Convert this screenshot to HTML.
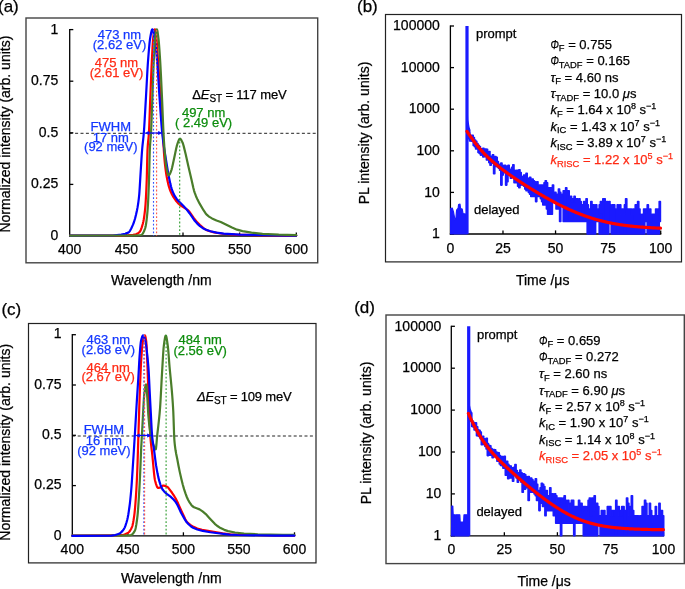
<!DOCTYPE html>
<html><head><meta charset="utf-8"><style>
html,body{margin:0;padding:0;background:#fff;}
svg{display:block;will-change:transform;}
</style></head><body>
<svg width="685" height="589" viewBox="0 0 685 589" font-family='"Liberation Sans", sans-serif'>
<rect width="685" height="589" fill="#fff"/>
<rect x="26.0" y="18.0" width="291.70" height="244.80" fill="none" stroke="#444" stroke-width="1.4"/>
<line x1="69.70" y1="133.30" x2="317.10" y2="133.30" stroke="#222" stroke-width="1.0" stroke-dasharray="3,2.4"/>
<line x1="69.70" y1="29.00" x2="69.70" y2="236.60" stroke="#000" stroke-width="1.3" />
<line x1="69.10" y1="236.00" x2="296.90" y2="236.00" stroke="#000" stroke-width="1.3" />
<line x1="69.70" y1="236.00" x2="73.30" y2="236.00" stroke="#000" stroke-width="1.3" />
<line x1="69.70" y1="184.40" x2="73.30" y2="184.40" stroke="#000" stroke-width="1.3" />
<line x1="69.70" y1="132.80" x2="73.30" y2="132.80" stroke="#000" stroke-width="1.3" />
<line x1="69.70" y1="81.20" x2="73.30" y2="81.20" stroke="#000" stroke-width="1.3" />
<line x1="69.70" y1="29.60" x2="73.30" y2="29.60" stroke="#000" stroke-width="1.3" />
<line x1="126.35" y1="236.00" x2="126.35" y2="232.40" stroke="#000" stroke-width="1.3" />
<line x1="183.00" y1="236.00" x2="183.00" y2="232.40" stroke="#000" stroke-width="1.3" />
<line x1="239.65" y1="236.00" x2="239.65" y2="232.40" stroke="#000" stroke-width="1.3" />
<line x1="296.30" y1="236.00" x2="296.30" y2="232.40" stroke="#000" stroke-width="1.3" />
<polyline points="70.00,235.60 124.25,235.52 133.25,234.86 136.00,234.20 138.50,232.99 139.50,232.24 140.25,231.10 141.00,229.43 141.75,227.32 142.75,223.95 143.25,221.97 143.75,219.43 144.00,217.91 144.25,216.23 144.50,214.36 144.75,212.31 145.00,210.05 145.25,207.58 145.50,204.54 145.75,200.78 146.00,196.34 146.25,191.25 146.50,185.56 146.75,179.18 147.00,169.27 147.25,158.00 147.50,150.00 147.75,145.91 148.00,142.94 148.50,138.16 148.75,135.24 149.00,131.21 149.25,125.71 149.50,119.18 150.00,105.18 150.25,98.77 151.00,80.17 151.25,74.16 151.50,68.41 151.75,63.02 152.25,53.00 152.50,48.12 152.75,43.70 153.00,40.09 153.25,37.58 153.75,33.64 154.00,31.97 154.25,30.64 154.50,29.72 154.75,29.31 155.00,29.50 155.25,30.27 155.50,31.50 155.75,33.07 156.25,36.82 156.50,38.85 156.75,41.51 157.00,44.79 157.25,48.48 157.75,56.28 158.25,63.57 159.25,78.16 160.50,96.95 161.25,108.53 163.00,136.20 163.75,148.84 164.00,152.82 164.25,156.43 164.50,159.53 164.75,162.09 165.25,166.64 165.75,170.61 166.25,174.06 166.75,177.05 167.50,180.84 168.25,184.09 169.00,186.88 169.75,189.24 170.75,191.83 172.00,194.54 173.50,197.21 175.75,200.49 178.00,203.16 180.00,204.97 186.00,208.86 188.25,210.47 189.50,211.82 191.75,215.15 193.50,217.70 197.25,222.40 199.75,224.87 203.50,228.07 206.25,229.89 209.00,231.02 214.00,232.31 222.50,233.76 235.00,234.59 255.00,235.20 295.50,235.60 296.25,235.60" fill="none" stroke="#ff0000" stroke-width="2.2" stroke-linejoin="round" stroke-linecap="round"/>
<polyline points="70.00,235.60 112.75,235.52 121.25,234.63 125.25,233.77 128.25,232.62 129.00,232.09 130.00,230.81 131.25,228.53 133.00,224.67 134.00,222.00 135.00,218.70 136.00,214.78 137.00,210.24 137.50,207.63 138.00,204.61 138.50,201.06 138.75,199.04 139.00,196.84 139.25,194.30 139.50,191.01 139.75,187.14 140.50,174.47 141.00,166.54 141.50,158.48 141.75,154.70 142.00,151.25 142.25,148.26 142.50,145.67 143.25,138.84 143.50,136.39 143.75,133.61 144.00,130.38 144.25,126.72 144.50,122.74 145.00,114.11 145.75,100.85 146.00,96.53 146.50,87.34 147.00,77.95 147.25,73.40 147.50,69.06 147.75,65.01 148.00,61.34 148.50,54.85 149.00,48.78 149.25,46.01 149.50,43.47 149.75,41.21 150.00,39.28 150.50,36.27 151.00,33.52 151.50,31.22 151.75,30.35 152.00,29.72 152.25,29.36 152.50,29.33 152.75,29.63 153.00,30.23 153.25,31.09 153.75,33.35 154.75,38.87 155.00,40.53 155.25,42.42 155.50,44.51 156.00,49.22 156.50,54.45 157.00,60.00 157.25,62.99 157.50,66.30 157.75,69.86 158.25,77.51 159.25,93.38 159.50,97.14 161.00,118.61 161.25,122.01 161.50,125.24 161.75,128.25 162.00,131.01 162.25,133.47 162.75,137.89 163.25,141.90 164.00,147.29 165.00,153.75 167.50,169.29 168.25,173.61 169.00,177.52 170.25,183.36 171.00,186.51 171.75,189.17 172.50,191.25 173.75,194.11 175.00,196.44 176.50,198.72 178.50,201.05 183.50,206.03 186.00,208.70 189.50,213.24 192.25,217.14 194.75,220.77 197.25,223.58 200.00,226.15 202.50,227.90 206.00,229.70 210.50,231.25 216.50,232.61 223.75,233.70 239.75,234.57 277.50,235.44 296.25,235.60" fill="none" stroke="#0000ff" stroke-width="2.2" stroke-linejoin="round" stroke-linecap="round"/>
<polyline points="70.00,235.60 134.25,235.52 140.75,234.98 141.75,234.73 142.50,234.03 143.25,232.85 144.00,231.25 145.00,228.59 145.25,227.84 145.50,226.91 145.75,225.73 146.00,224.31 146.25,222.66 146.50,220.78 146.75,218.69 147.00,216.39 147.25,213.89 147.50,211.20 147.75,207.96 148.00,203.84 148.25,198.96 148.50,193.40 148.75,187.25 149.00,180.60 149.25,171.40 149.50,160.25 149.75,151.20 150.00,146.28 150.25,142.78 150.75,136.87 151.00,133.00 151.25,127.86 151.50,121.76 151.75,115.05 152.25,101.31 152.50,94.61 153.00,80.26 153.25,73.22 153.50,66.70 153.75,61.01 154.00,56.08 154.25,51.36 154.50,46.98 154.75,43.11 155.00,39.94 155.25,37.59 155.75,33.69 156.00,32.02 156.25,30.66 156.50,29.73 156.75,29.31 157.00,29.51 157.25,30.28 157.50,31.52 157.75,33.11 158.25,36.85 158.50,38.81 158.75,41.20 159.00,44.06 159.25,47.30 159.50,50.83 160.00,58.44 160.25,62.42 160.50,66.77 160.75,71.46 161.00,76.42 161.50,86.94 162.00,97.82 162.25,103.39 162.50,109.45 163.00,121.99 163.25,127.85 163.50,133.00 163.75,137.54 164.00,141.76 164.25,145.62 164.50,149.11 165.00,155.34 165.25,158.24 165.50,160.90 165.75,163.21 166.00,165.09 166.75,169.27 167.25,171.70 167.75,173.64 168.00,174.37 168.25,174.90 168.50,175.22 168.75,175.30 169.25,174.97 169.75,174.20 170.50,172.50 171.50,169.85 172.00,168.06 172.75,164.80 174.25,157.72 175.25,153.04 176.25,148.26 176.75,146.16 177.25,144.45 178.50,140.82 179.00,139.66 179.50,138.91 180.00,138.71 180.50,138.99 181.25,139.99 182.50,142.41 183.00,143.74 183.75,146.37 185.75,154.50 188.25,165.68 191.75,180.78 193.25,187.59 194.00,190.56 194.75,192.92 196.00,196.21 197.50,199.58 199.50,203.40 203.50,210.24 205.50,213.20 207.00,214.97 209.00,216.61 212.00,218.43 216.50,220.43 220.75,221.92 232.00,227.54 237.00,229.64 242.50,231.11 251.50,232.67 262.50,233.80 278.75,234.71 296.25,235.20" fill="none" stroke="#4a7d2a" stroke-width="2.2" stroke-linejoin="round" stroke-linecap="round"/>
<line x1="153.50" y1="30.00" x2="153.50" y2="236.00" stroke="#3355ff" stroke-width="1.1" stroke-dasharray="1.8,2.0"/>
<line x1="156.60" y1="30.00" x2="156.60" y2="236.00" stroke="#ff5544" stroke-width="1.1" stroke-dasharray="1.8,2.0"/>
<line x1="179.70" y1="138.00" x2="179.70" y2="236.00" stroke="#2a9a2a" stroke-width="1.1" stroke-dasharray="1.8,2.0"/>
<text x="58.30" y="239.90" font-size="14" text-anchor="end" fill="#000" stroke="#000" stroke-width="0.25" >0</text>
<text x="58.30" y="188.30" font-size="14" text-anchor="end" fill="#000" stroke="#000" stroke-width="0.25" >0.25</text>
<text x="58.30" y="136.70" font-size="14" text-anchor="end" fill="#000" stroke="#000" stroke-width="0.25" >0.5</text>
<text x="58.30" y="85.10" font-size="14" text-anchor="end" fill="#000" stroke="#000" stroke-width="0.25" >0.75</text>
<text x="58.30" y="33.50" font-size="14" text-anchor="end" fill="#000" stroke="#000" stroke-width="0.25" >1</text>
<text x="69.70" y="253.60" font-size="14" text-anchor="middle" fill="#000" stroke="#000" stroke-width="0.25" >400</text>
<text x="126.35" y="253.60" font-size="14" text-anchor="middle" fill="#000" stroke="#000" stroke-width="0.25" >450</text>
<text x="183.00" y="253.60" font-size="14" text-anchor="middle" fill="#000" stroke="#000" stroke-width="0.25" >500</text>
<text x="239.65" y="253.60" font-size="14" text-anchor="middle" fill="#000" stroke="#000" stroke-width="0.25" >550</text>
<text x="296.30" y="253.60" font-size="14" text-anchor="middle" fill="#000" stroke="#000" stroke-width="0.25" >600</text>
<text x="161.30" y="285.00" font-size="14" text-anchor="middle" fill="#000" stroke="#000" stroke-width="0.25" >Wavelength /nm</text>
<text transform="translate(10.4,134.1) rotate(-90)" font-size="14" text-anchor="middle" stroke="#000" stroke-width="0.25">Normalized intensity (arb. units)</text>
<rect x="28.5" y="323.5" width="287.50" height="239.40" fill="none" stroke="#222" stroke-width="1.2"/>
<line x1="72.30" y1="436.00" x2="315.40" y2="436.00" stroke="#222" stroke-width="1.0" stroke-dasharray="3,2.4"/>
<line x1="72.30" y1="334.10" x2="72.30" y2="536.50" stroke="#000" stroke-width="1.3" />
<line x1="71.70" y1="535.90" x2="295.10" y2="535.90" stroke="#000" stroke-width="1.3" />
<line x1="72.30" y1="535.90" x2="75.90" y2="535.90" stroke="#000" stroke-width="1.3" />
<line x1="72.30" y1="485.60" x2="75.90" y2="485.60" stroke="#000" stroke-width="1.3" />
<line x1="72.30" y1="435.30" x2="75.90" y2="435.30" stroke="#000" stroke-width="1.3" />
<line x1="72.30" y1="385.00" x2="75.90" y2="385.00" stroke="#000" stroke-width="1.3" />
<line x1="72.30" y1="334.70" x2="75.90" y2="334.70" stroke="#000" stroke-width="1.3" />
<line x1="127.85" y1="535.90" x2="127.85" y2="532.30" stroke="#000" stroke-width="1.3" />
<line x1="183.40" y1="535.90" x2="183.40" y2="532.30" stroke="#000" stroke-width="1.3" />
<line x1="238.95" y1="535.90" x2="238.95" y2="532.30" stroke="#000" stroke-width="1.3" />
<line x1="294.50" y1="535.90" x2="294.50" y2="532.30" stroke="#000" stroke-width="1.3" />
<polyline points="72.30,535.70 112.55,535.45 121.80,535.22 124.55,534.52 127.80,533.00 129.05,532.00 130.05,530.73 131.05,529.04 132.05,526.88 132.30,526.16 132.55,525.26 133.05,523.00 133.55,520.17 134.05,516.89 134.30,515.10 134.55,513.08 134.80,510.69 135.05,507.97 135.30,504.96 135.55,501.70 135.80,498.21 136.05,494.55 136.30,490.62 136.55,486.20 136.80,481.28 137.05,475.88 137.30,470.00 137.55,463.15 137.80,455.21 138.30,438.39 139.05,414.35 139.30,406.53 139.55,399.14 140.05,385.64 140.30,379.11 140.55,372.94 140.80,367.33 141.05,362.47 141.30,358.49 141.55,354.82 141.80,351.39 142.05,348.27 142.30,345.53 142.55,343.25 142.80,341.52 143.30,339.18 143.80,337.25 144.05,336.48 144.30,335.90 144.55,335.53 144.80,335.40 145.05,335.62 145.30,336.26 145.55,337.27 145.80,338.60 146.05,340.19 146.30,342.00 146.55,345.24 146.80,350.41 147.30,362.39 147.55,369.01 148.05,383.32 148.30,390.00 148.55,396.12 148.80,401.99 149.55,418.88 150.05,430.71 150.30,435.40 150.55,438.75 150.80,441.64 151.05,444.17 151.55,448.56 152.05,452.74 152.30,455.00 152.80,460.09 153.80,470.87 154.05,473.33 154.30,475.59 154.55,477.58 154.80,479.23 155.05,480.50 156.05,484.11 156.80,486.24 157.30,487.24 157.80,487.80 158.55,487.88 160.80,487.37 162.80,485.70 163.80,485.64 166.05,486.28 167.30,486.88 168.55,488.06 172.05,492.78 174.30,496.18 176.30,499.66 178.05,503.32 181.30,510.67 183.55,515.55 185.30,519.30 186.55,521.46 187.55,522.65 190.30,524.88 193.55,526.87 197.30,528.49 202.05,529.83 222.55,533.41 230.55,534.41 245.30,534.88 282.55,535.37 294.30,535.40" fill="none" stroke="#ff0000" stroke-width="2.2" stroke-linejoin="round" stroke-linecap="round"/>
<polyline points="72.30,535.70 126.30,535.47 131.05,535.05 132.05,534.53 133.05,533.54 134.30,531.70 135.05,530.27 135.30,529.53 135.55,528.58 135.80,527.43 136.30,524.63 136.80,521.28 137.30,517.50 137.55,515.28 137.80,512.59 138.05,509.50 138.30,506.09 138.55,502.42 139.05,494.60 139.30,490.43 139.55,485.80 139.80,480.80 140.05,475.50 140.30,470.00 140.55,463.86 140.80,457.22 141.05,451.08 141.30,446.06 141.80,437.30 142.80,418.68 143.30,408.87 143.55,404.23 143.80,400.05 144.05,396.57 144.30,394.00 144.80,390.04 145.05,388.27 145.30,386.73 145.55,385.51 145.80,384.68 146.05,384.31 146.30,384.93 146.55,387.16 146.80,390.39 147.30,397.39 147.55,401.53 148.05,410.75 148.30,414.71 148.55,417.74 148.80,420.48 149.05,423.01 149.30,425.35 149.55,427.47 149.80,429.38 150.05,431.08 150.55,433.97 151.30,437.73 152.05,440.85 152.80,443.38 154.30,447.37 154.80,448.42 155.30,449.11 155.55,449.27 155.80,449.18 156.05,447.97 156.30,445.75 156.55,442.92 157.05,436.92 157.30,434.48 158.30,425.85 158.80,421.49 159.30,416.71 159.55,414.06 159.80,411.21 160.05,408.05 160.30,404.35 160.55,400.22 160.80,395.75 161.80,376.88 162.05,372.48 162.55,364.10 163.05,355.55 163.30,351.70 163.55,348.45 163.80,346.00 164.30,342.16 164.55,340.41 164.80,338.83 165.05,337.51 165.30,336.49 165.55,335.83 165.80,335.60 166.05,335.85 166.30,336.54 166.55,337.60 166.80,338.97 167.30,342.31 167.80,346.00 168.05,348.16 168.30,350.87 168.55,353.95 169.30,363.79 169.55,366.75 170.05,372.21 171.30,384.94 171.80,390.41 172.05,393.36 172.30,396.51 172.55,399.89 172.80,403.53 173.05,407.48 173.30,411.96 173.55,418.49 173.80,426.15 174.05,433.50 174.30,439.09 174.55,442.12 174.80,444.57 175.05,446.72 175.30,448.62 175.55,450.30 176.05,453.18 177.30,459.32 178.55,466.02 179.80,472.12 181.30,478.69 182.80,484.73 184.05,489.17 185.55,493.67 186.80,497.00 188.05,499.81 189.55,502.39 191.30,504.89 192.55,506.25 194.05,507.26 197.30,508.44 199.55,509.38 202.55,511.33 205.80,514.03 209.05,517.64 214.80,523.82 217.05,525.76 220.55,528.05 224.30,529.84 228.05,531.11 235.05,532.47 244.05,533.48 257.80,534.23 283.05,534.81 294.30,534.90" fill="none" stroke="#4a7d2a" stroke-width="2.2" stroke-linejoin="round" stroke-linecap="round"/>
<polyline points="72.30,535.80 111.55,535.62 115.30,534.98 119.05,533.79 120.80,532.62 122.55,530.86 124.05,528.87 124.80,527.37 125.55,525.44 126.55,522.27 127.30,519.51 127.80,517.22 128.30,514.46 128.80,511.30 129.55,505.98 129.80,504.04 130.05,501.93 130.30,499.65 130.80,494.62 131.30,488.99 131.55,485.90 131.80,482.40 132.30,474.67 133.80,451.48 134.80,435.50 135.55,422.90 136.55,405.78 137.05,397.59 138.30,378.24 138.55,374.16 138.80,369.71 139.05,365.07 139.30,360.61 139.55,356.69 140.05,350.02 140.30,346.94 140.55,344.26 140.80,342.16 141.05,340.78 141.55,338.72 142.05,337.03 142.55,335.88 142.80,335.55 143.05,335.40 143.30,335.46 143.80,336.08 144.30,337.25 145.05,339.70 145.55,341.65 145.80,343.07 146.05,344.82 146.55,348.94 147.30,355.52 147.55,357.84 147.80,360.32 148.05,363.03 148.30,366.00 148.55,369.30 148.80,373.28 149.05,378.28 149.55,389.01 150.30,403.39 150.80,412.67 151.30,422.54 151.55,427.30 151.80,431.54 152.05,434.94 152.30,437.50 152.55,439.68 152.80,441.59 153.30,444.91 153.80,448.09 154.05,449.83 154.80,455.76 155.55,461.73 156.05,465.19 156.80,469.59 157.55,473.59 158.30,477.14 159.05,480.16 160.30,484.33 161.05,486.45 161.80,488.18 162.80,489.81 164.30,491.63 167.05,494.11 170.55,496.63 173.55,499.47 175.55,501.86 176.80,503.79 178.30,506.78 181.05,512.68 184.80,519.40 186.55,522.06 188.30,524.03 190.80,526.27 193.05,527.73 197.30,529.44 202.80,530.94 210.30,532.28 229.30,534.61 237.55,534.99 274.55,535.62 294.30,535.70" fill="none" stroke="#0000ff" stroke-width="2.2" stroke-linejoin="round" stroke-linecap="round"/>
<line x1="143.80" y1="335.00" x2="143.80" y2="535.90" stroke="#3355ff" stroke-width="1.1" stroke-dasharray="1.8,2.0"/>
<line x1="144.60" y1="335.00" x2="144.60" y2="535.90" stroke="#ff5544" stroke-width="1.1" stroke-dasharray="1.8,2.0"/>
<line x1="166.10" y1="335.00" x2="166.10" y2="535.90" stroke="#2a9a2a" stroke-width="1.1" stroke-dasharray="1.8,2.0"/>
<text x="61.50" y="539.50" font-size="14" text-anchor="end" fill="#000" stroke="#000" stroke-width="0.25" >0</text>
<text x="61.50" y="489.20" font-size="14" text-anchor="end" fill="#000" stroke="#000" stroke-width="0.25" >0.25</text>
<text x="61.50" y="438.90" font-size="14" text-anchor="end" fill="#000" stroke="#000" stroke-width="0.25" >0.5</text>
<text x="61.50" y="388.60" font-size="14" text-anchor="end" fill="#000" stroke="#000" stroke-width="0.25" >0.75</text>
<text x="61.50" y="338.30" font-size="14" text-anchor="end" fill="#000" stroke="#000" stroke-width="0.25" >1</text>
<text x="72.30" y="553.60" font-size="14" text-anchor="middle" fill="#000" stroke="#000" stroke-width="0.25" >400</text>
<text x="127.85" y="553.60" font-size="14" text-anchor="middle" fill="#000" stroke="#000" stroke-width="0.25" >450</text>
<text x="183.40" y="553.60" font-size="14" text-anchor="middle" fill="#000" stroke="#000" stroke-width="0.25" >500</text>
<text x="238.95" y="553.60" font-size="14" text-anchor="middle" fill="#000" stroke="#000" stroke-width="0.25" >550</text>
<text x="294.50" y="553.60" font-size="14" text-anchor="middle" fill="#000" stroke="#000" stroke-width="0.25" >600</text>
<text x="171.30" y="583.20" font-size="14" text-anchor="middle" fill="#000" stroke="#000" stroke-width="0.25" >Wavelength /nm</text>
<text transform="translate(10.3,442.3) rotate(-90)" font-size="14" text-anchor="middle" stroke="#000" stroke-width="0.25">Normalized intensity (arb. units)</text>
<text x="-2.00" y="11.60" font-size="17" text-anchor="start" fill="#000" stroke="#000" stroke-width="0.25" >(a)</text>
<text x="357.00" y="11.70" font-size="17" text-anchor="start" fill="#000" stroke="#000" stroke-width="0.25" >(b)</text>
<text x="1.40" y="315.30" font-size="17" text-anchor="start" fill="#000" stroke="#000" stroke-width="0.25" >(c)</text>
<text x="354.20" y="313.20" font-size="17" text-anchor="start" fill="#000" stroke="#000" stroke-width="0.25" >(d)</text>
<text x="119.50" y="39.00" font-size="13" text-anchor="middle" fill="#1438ff" stroke="#1438ff" stroke-width="0.25" >473 nm</text>
<text x="119.50" y="49.40" font-size="13" text-anchor="middle" fill="#1438ff" stroke="#1438ff" stroke-width="0.25" >(2.62 eV)</text>
<text x="116.50" y="67.00" font-size="13" text-anchor="middle" fill="#ff2a14" stroke="#ff2a14" stroke-width="0.25" >475 nm</text>
<text x="116.50" y="76.90" font-size="13" text-anchor="middle" fill="#ff2a14" stroke="#ff2a14" stroke-width="0.25" >(2.61 eV)</text>
<text x="203.60" y="117.00" font-size="13" text-anchor="middle" fill="#0c8c0c" stroke="#0c8c0c" stroke-width="0.25" >497 nm</text>
<text x="203.60" y="126.50" font-size="13" text-anchor="middle" fill="#0c8c0c" stroke="#0c8c0c" stroke-width="0.25" >( 2.49 eV)</text>
<text x="110.80" y="130.80" font-size="13" text-anchor="middle" fill="#1438ff" stroke="#1438ff" stroke-width="0.25" >FWHM</text>
<text x="110.80" y="141.60" font-size="13" text-anchor="middle" fill="#1438ff" stroke="#1438ff" stroke-width="0.25" >17 nm</text>
<text x="110.80" y="151.30" font-size="13" text-anchor="middle" fill="#1438ff" stroke="#1438ff" stroke-width="0.25" >(92 meV)</text>
<text x="192.30" y="99.40" font-size="13" text-anchor="start" fill="#000" stroke="#000" stroke-width="0.25" letter-spacing="-0.13">Δ<tspan font-style="italic">E</tspan><tspan font-size="10" dy="2.6">ST</tspan><tspan dy="-2.6"> = 117 meV</tspan></text>
<text x="108.30" y="344.10" font-size="13" text-anchor="middle" fill="#1438ff" stroke="#1438ff" stroke-width="0.25" >463 nm</text>
<text x="108.30" y="354.30" font-size="13" text-anchor="middle" fill="#1438ff" stroke="#1438ff" stroke-width="0.25" >(2.68 eV)</text>
<text x="108.20" y="371.80" font-size="13" text-anchor="middle" fill="#ff2a14" stroke="#ff2a14" stroke-width="0.25" >464 nm</text>
<text x="108.20" y="381.30" font-size="13" text-anchor="middle" fill="#ff2a14" stroke="#ff2a14" stroke-width="0.25" >(2.67 eV)</text>
<text x="200.20" y="344.20" font-size="13" text-anchor="middle" fill="#0c8c0c" stroke="#0c8c0c" stroke-width="0.25" >484 nm</text>
<text x="200.20" y="354.70" font-size="13" text-anchor="middle" fill="#0c8c0c" stroke="#0c8c0c" stroke-width="0.25" >(2.56 eV)</text>
<text x="103.90" y="433.80" font-size="13" text-anchor="middle" fill="#1438ff" stroke="#1438ff" stroke-width="0.25" >FWHM</text>
<text x="103.90" y="444.50" font-size="13" text-anchor="middle" fill="#1438ff" stroke="#1438ff" stroke-width="0.25" >16 nm</text>
<text x="103.90" y="454.70" font-size="13" text-anchor="middle" fill="#1438ff" stroke="#1438ff" stroke-width="0.25" >(92 meV)</text>
<text x="197.00" y="401.20" font-size="13" text-anchor="start" fill="#000" stroke="#000" stroke-width="0.25" letter-spacing="-0.18"><tspan font-style="italic">ΔE</tspan><tspan font-size="10" dy="2.6">ST</tspan><tspan dy="-2.6"> = 109 meV</tspan></text>
<line x1="147.60" y1="133.00" x2="159.60" y2="133.00" stroke="#0a0aff" stroke-width="1.2" />
<path d="M144.60,133.00 L149.10,131.00 L149.10,135.00 Z" fill="#0a0aff"/>
<path d="M162.60,133.00 L158.10,131.00 L158.10,135.00 Z" fill="#0a0aff"/>
<line x1="138.20" y1="435.40" x2="148.60" y2="435.40" stroke="#0a0aff" stroke-width="1.2" />
<path d="M135.20,435.40 L139.70,433.40 L139.70,437.40 Z" fill="#0a0aff"/>
<path d="M151.60,435.40 L147.10,433.40 L147.10,437.40 Z" fill="#0a0aff"/>
<rect x="385.5" y="14.5" width="296.00" height="247.40" fill="none" stroke="#222" stroke-width="1.2"/>
<line x1="450.40" y1="25.40" x2="450.40" y2="234.60" stroke="#000" stroke-width="1.3" />
<line x1="449.80" y1="234.00" x2="661.30" y2="234.00" stroke="#000" stroke-width="1.3" />
<line x1="450.40" y1="234.00" x2="454.00" y2="234.00" stroke="#000" stroke-width="1.3" />
<line x1="450.40" y1="192.40" x2="454.00" y2="192.40" stroke="#000" stroke-width="1.3" />
<line x1="450.40" y1="150.80" x2="454.00" y2="150.80" stroke="#000" stroke-width="1.3" />
<line x1="450.40" y1="109.20" x2="454.00" y2="109.20" stroke="#000" stroke-width="1.3" />
<line x1="450.40" y1="67.60" x2="454.00" y2="67.60" stroke="#000" stroke-width="1.3" />
<line x1="450.40" y1="26.00" x2="454.00" y2="26.00" stroke="#000" stroke-width="1.3" />
<line x1="502.98" y1="234.00" x2="502.98" y2="230.40" stroke="#000" stroke-width="1.3" />
<line x1="555.55" y1="234.00" x2="555.55" y2="230.40" stroke="#000" stroke-width="1.3" />
<line x1="608.12" y1="234.00" x2="608.12" y2="230.40" stroke="#000" stroke-width="1.3" />
<line x1="660.70" y1="234.00" x2="660.70" y2="230.40" stroke="#000" stroke-width="1.3" />
<polygon points="450.6,234.0 450.6,208.5 452.2,208.0 453.5,212.0 455.0,220.0 455.8,220.0 456.6,210.0 458.2,208.0 458.6,204.5 460.0,204.2 460.6,208.5 462.2,209.0 463.0,213.5 465.5,214.0 466.5,214.0 467.0,234.0" fill="#1a1aff" stroke="#1a1aff" stroke-width="1.2" stroke-linejoin="round"/>
<polygon points="467.2,131.8 468.4,131.8 468.4,132.5 469.6,132.5 469.6,135.6 470.8,135.6 470.8,135.4 472.0,135.4 472.0,135.4 473.2,135.4 473.2,137.5 474.4,137.5 474.4,140.1 475.6,140.1 475.6,141.3 476.8,141.3 476.8,143.6 478.0,143.6 478.0,145.2 479.2,145.2 479.2,146.6 480.4,146.6 480.4,148.9 481.6,148.9 481.6,149.1 482.8,149.1 482.8,148.4 484.0,148.4 484.0,149.9 485.2,149.9 485.2,149.1 486.4,149.1 486.4,149.4 487.6,149.4 487.6,152.7 488.8,152.7 488.8,151.5 490.0,151.5 490.0,158.0 491.2,158.0 491.2,156.2 492.4,156.2 492.4,154.8 493.6,154.8 493.6,158.6 494.8,158.6 494.8,156.5 496.0,156.5 496.0,157.2 497.2,157.2 497.2,161.6 498.4,161.6 498.4,164.4 499.6,164.4 499.6,166.5 500.8,166.5 500.8,163.0 502.0,163.0 502.0,165.2 503.2,165.2 503.2,167.8 504.4,167.8 504.4,165.2 505.6,165.2 505.6,166.5 506.8,166.5 506.8,166.0 508.0,166.0 508.0,165.2 509.2,165.2 509.2,169.3 510.4,169.3 510.4,169.8 511.6,169.8 511.6,167.4 512.8,167.4 512.8,164.8 514.0,164.8 514.0,170.3 515.2,170.3 515.2,174.5 516.4,174.5 516.4,170.3 517.6,170.3 517.6,170.3 518.8,170.3 518.8,169.8 520.0,169.8 520.0,172.6 521.2,172.6 521.2,176.6 522.4,176.6 522.4,179.0 523.6,179.0 523.6,175.1 524.8,175.1 524.8,175.1 526.0,175.1 526.0,173.2 527.2,173.2 527.2,178.2 528.4,178.2 528.4,178.2 529.6,178.2 529.6,177.4 530.8,177.4 530.8,182.8 532.0,182.8 532.0,179.0 533.2,179.0 533.2,180.8 534.4,180.8 534.4,181.8 535.6,181.8 535.6,183.9 536.8,183.9 536.8,181.8 538.0,181.8 538.0,189.1 539.2,189.1 539.2,185.1 540.4,185.1 540.4,185.1 541.6,185.1 541.6,185.1 542.8,185.1 542.8,187.7 544.0,187.7 544.0,182.8 545.2,182.8 545.2,180.8 546.4,180.8 546.4,182.8 547.6,182.8 547.6,190.7 548.8,190.7 548.8,187.7 550.0,187.7 550.0,187.7 551.2,187.7 551.2,189.1 552.4,189.1 552.4,185.1 553.6,185.1 553.6,194.3 554.8,194.3 554.8,192.4 556.0,192.4 556.0,194.3 557.2,194.3 557.2,194.3 558.4,194.3 558.4,189.1 559.6,189.1 559.6,192.4 560.8,192.4 560.8,196.4 562.0,196.4 562.0,194.3 563.2,194.3 563.2,190.7 564.4,190.7 564.4,204.9 565.6,204.9 565.6,187.7 566.8,187.7 566.8,194.3 568.0,194.3 568.0,190.7 569.2,190.7 569.2,198.8 570.4,198.8 570.4,196.4 571.6,196.4 571.6,201.6 572.8,201.6 572.8,198.8 574.0,198.8 574.0,196.4 575.2,196.4 575.2,201.6 576.4,201.6 576.4,198.8 577.6,198.8 577.6,201.6 578.8,201.6 578.8,198.8 580.0,198.8 580.0,201.6 581.2,201.6 581.2,204.9 582.4,204.9 582.4,214.2 583.6,214.2 583.6,201.6 584.8,201.6 584.8,204.9 586.0,204.9 586.0,198.8 587.2,198.8 587.2,204.9 588.4,204.9 588.4,209.0 589.6,209.0 589.6,209.0 590.8,209.0 590.8,201.6 592.0,201.6 592.0,209.0 593.2,209.0 593.2,204.9 594.4,204.9 594.4,209.0 595.6,209.0 595.6,204.9 596.8,204.9 596.8,214.2 598.0,214.2 598.0,209.0 599.2,209.0 599.2,204.9 600.4,204.9 600.4,201.6 601.6,201.6 601.6,201.6 602.8,201.6 602.8,198.8 604.0,198.8 604.0,198.8 605.2,198.8 605.2,221.5 606.4,221.5 606.4,201.6 607.6,201.6 607.6,221.5 608.8,221.5 608.8,201.6 610.0,201.6 610.0,204.9 611.2,204.9 611.2,209.0 612.4,209.0 612.4,204.9 613.6,204.9 613.6,204.9 614.8,204.9 614.8,209.0 616.0,209.0 616.0,221.5 617.2,221.5 617.2,204.9 618.4,204.9 618.4,209.0 619.6,209.0 619.6,204.9 620.8,204.9 620.8,214.2 622.0,214.2 622.0,209.0 623.2,209.0 623.2,214.2 624.4,214.2 624.4,204.9 625.6,204.9 625.6,198.8 626.8,198.8 626.8,209.0 628.0,209.0 628.0,209.0 629.2,209.0 629.2,209.0 630.4,209.0 630.4,209.0 631.6,209.0 631.6,214.2 632.8,214.2 632.8,209.0 634.0,209.0 634.0,221.5 635.2,221.5 635.2,204.9 636.4,204.9 636.4,209.0 637.6,209.0 637.6,201.6 638.8,201.6 638.8,209.0 640.0,209.0 640.0,214.2 641.2,214.2 641.2,234.0 642.4,234.0 642.4,214.2 643.6,214.2 643.6,209.0 644.8,209.0 644.8,209.0 646.0,209.0 646.0,209.0 647.2,209.0 647.2,204.9 648.4,204.9 648.4,214.2 649.6,214.2 649.6,209.0 650.8,209.0 650.8,221.5 652.0,221.5 652.0,214.2 653.2,214.2 653.2,214.2 654.4,214.2 654.4,214.2 655.6,214.2 655.6,209.0 656.8,209.0 656.8,221.5 658.0,221.5 658.0,209.0 659.2,209.0 659.2,201.6 660.4,201.6 660.4,221.5 659.2,221.5 659.2,234.0 658.0,234.0 658.0,234.0 656.8,234.0 656.8,234.0 655.6,234.0 655.6,234.0 654.4,234.0 654.4,234.0 653.2,234.0 653.2,234.0 652.0,234.0 652.0,234.0 650.8,234.0 650.8,234.0 649.6,234.0 649.6,234.0 648.4,234.0 648.4,234.0 647.2,234.0 647.2,214.2 646.0,214.2 646.0,221.5 644.8,221.5 644.8,234.0 643.6,234.0 643.6,234.0 642.4,234.0 642.4,234.0 641.2,234.0 641.2,234.0 640.0,234.0 640.0,234.0 638.8,234.0 638.8,234.0 637.6,234.0 637.6,234.0 636.4,234.0 636.4,234.0 635.2,234.0 635.2,234.0 634.0,234.0 634.0,234.0 632.8,234.0 632.8,234.0 631.6,234.0 631.6,234.0 630.4,234.0 630.4,234.0 629.2,234.0 629.2,234.0 628.0,234.0 628.0,234.0 626.8,234.0 626.8,234.0 625.6,234.0 625.6,221.5 624.4,221.5 624.4,234.0 623.2,234.0 623.2,234.0 622.0,234.0 622.0,234.0 620.8,234.0 620.8,234.0 619.6,234.0 619.6,234.0 618.4,234.0 618.4,221.5 617.2,221.5 617.2,234.0 616.0,234.0 616.0,234.0 614.8,234.0 614.8,234.0 613.6,234.0 613.6,234.0 612.4,234.0 612.4,234.0 611.2,234.0 611.2,221.5 610.0,221.5 610.0,221.5 608.8,221.5 608.8,234.0 607.6,234.0 607.6,234.0 606.4,234.0 606.4,234.0 605.2,234.0 605.2,234.0 604.0,234.0 604.0,234.0 602.8,234.0 602.8,234.0 601.6,234.0 601.6,214.2 600.4,214.2 600.4,234.0 599.2,234.0 599.2,221.5 598.0,221.5 598.0,221.5 596.8,221.5 596.8,221.5 595.6,221.5 595.6,234.0 594.4,234.0 594.4,221.5 593.2,221.5 593.2,234.0 592.0,234.0 592.0,221.5 590.8,221.5 590.8,234.0 589.6,234.0 589.6,221.5 588.4,221.5 588.4,234.0 587.2,234.0 587.2,221.5 586.0,221.5 586.0,221.5 584.8,221.5 584.8,214.2 583.6,214.2 583.6,221.5 582.4,221.5 582.4,221.5 581.2,221.5 581.2,214.2 580.0,214.2 580.0,221.5 578.8,221.5 578.8,221.5 577.6,221.5 577.6,221.5 576.4,221.5 576.4,221.5 575.2,221.5 575.2,214.2 574.0,214.2 574.0,221.5 572.8,221.5 572.8,221.5 571.6,221.5 571.6,221.5 570.4,221.5 570.4,221.5 569.2,221.5 569.2,221.5 568.0,221.5 568.0,214.2 566.8,214.2 566.8,221.5 565.6,221.5 565.6,221.5 564.4,221.5 564.4,221.5 563.2,221.5 563.2,204.9 562.0,204.9 562.0,201.6 560.8,201.6 560.8,221.5 559.6,221.5 559.6,209.0 558.4,209.0 558.4,201.6 557.2,201.6 557.2,209.0 556.0,209.0 556.0,201.6 554.8,201.6 554.8,201.6 553.6,201.6 553.6,201.6 552.4,201.6 552.4,214.2 551.2,214.2 551.2,214.2 550.0,214.2 550.0,204.9 548.8,204.9 548.8,214.2 547.6,214.2 547.6,209.0 546.4,209.0 546.4,204.9 545.2,204.9 545.2,190.7 544.0,190.7 544.0,204.9 542.8,204.9 542.8,201.6 541.6,201.6 541.6,198.8 540.4,198.8 540.4,192.4 539.2,192.4 539.2,196.4 538.0,196.4 538.0,189.1 536.8,189.1 536.8,201.6 535.6,201.6 535.6,192.4 534.4,192.4 534.4,196.4 533.2,196.4 533.2,190.7 532.0,190.7 532.0,196.4 530.8,196.4 530.8,194.3 529.6,194.3 529.6,192.4 528.4,192.4 528.4,179.9 527.2,179.9 527.2,190.7 526.0,190.7 526.0,189.1 524.8,189.1 524.8,186.3 523.6,186.3 523.6,185.1 522.4,185.1 522.4,181.8 521.2,181.8 521.2,185.1 520.0,185.1 520.0,187.7 518.8,187.7 518.8,186.3 517.6,186.3 517.6,182.8 516.4,182.8 516.4,179.9 515.2,179.9 515.2,182.8 514.0,182.8 514.0,175.8 512.8,175.8 512.8,175.8 511.6,175.8 511.6,178.2 510.4,178.2 510.4,172.0 509.2,172.0 509.2,175.1 508.0,175.1 508.0,181.8 506.8,181.8 506.8,185.1 505.6,185.1 505.6,172.6 504.4,172.6 504.4,172.0 503.2,172.0 503.2,175.1 502.0,175.1 502.0,185.1 500.8,185.1 500.8,170.3 499.6,170.3 499.6,168.3 498.4,168.3 498.4,166.9 497.2,166.9 497.2,166.5 496.0,166.5 496.0,165.6 494.8,165.6 494.8,173.8 493.6,173.8 493.6,163.3 492.4,163.3 492.4,161.0 491.2,161.0 491.2,165.2 490.0,165.2 490.0,162.6 488.8,162.6 488.8,158.9 487.6,158.9 487.6,160.0 486.4,160.0 486.4,156.7 485.2,156.7 485.2,156.2 484.0,156.2 484.0,157.0 482.8,157.0 482.8,153.3 481.6,153.3 481.6,155.1 480.4,155.1 480.4,153.5 479.2,153.5 479.2,152.5 478.0,152.5 478.0,147.4 476.8,147.4 476.8,148.9 475.6,148.9 475.6,146.8 474.4,146.8 474.4,145.4 473.2,145.4 473.2,141.3 472.0,141.3 472.0,141.1 470.8,141.1 470.8,141.0 469.6,141.0 469.6,138.8 468.4,138.8 468.4,135.0 467.2,135.0" fill="#1a1aff" stroke="#1a1aff" stroke-width="1.6" stroke-linejoin="round"/>
<path d="M465.40,234.00 L465.40,26.00 L468.60,26.00 L468.60,115.00 Q468.50,125.10 470.50,130.10 L470.50,137.10 L468.60,139.10 L468.60,234.00 Z" fill="#1a1aff"/>
<polyline points="467.00,131.31 467.50,132.08 468.00,132.85 468.50,133.60 469.00,134.35 469.50,135.10 470.00,135.83 470.50,136.56 471.00,137.28 471.50,137.99 472.00,138.69 472.50,139.38 473.00,140.07 473.50,140.75 474.00,141.42 474.50,142.08 475.00,142.74 475.50,143.39 476.00,144.03 476.50,144.66 477.00,145.29 477.50,145.90 478.00,146.51 478.50,147.12 479.00,147.71 479.50,148.30 480.00,148.88 480.50,149.46 481.00,150.02 481.50,150.59 482.00,151.14 482.50,151.69 483.00,152.23 483.50,152.76 484.00,153.29 484.50,153.81 485.00,154.33 485.50,154.84 486.00,155.35 486.50,155.85 487.00,156.34 487.50,156.83 488.00,157.31 488.50,157.79 489.00,158.26 489.50,158.73 490.00,159.19 490.50,159.65 491.00,160.11 491.50,160.56 492.00,161.00 492.50,161.44 493.00,161.88 493.50,162.31 494.00,162.74 494.50,163.17 495.00,163.59 495.50,164.01 496.00,164.42 496.50,164.84 497.00,165.25 497.50,165.65 498.00,166.05 498.50,166.45 499.00,166.85 499.50,167.24 500.00,167.63 500.50,168.02 501.00,168.41 501.50,168.79 502.00,169.17 502.50,169.55 503.00,169.93 503.50,170.30 504.00,170.68 504.50,171.05 505.00,171.41 505.50,171.78 506.00,172.14 506.50,172.51 507.00,172.87 507.50,173.23 508.00,173.58 508.50,173.94 509.00,174.29 509.50,174.65 510.00,175.00 510.50,175.35 511.00,175.70 511.50,176.04 512.00,176.39 512.50,176.73 513.00,177.08 513.50,177.42 514.00,177.76 514.50,178.10 515.00,178.44 515.50,178.77 516.00,179.11 516.50,179.44 517.00,179.78 517.50,180.11 518.00,180.44 518.50,180.77 519.00,181.10 519.50,181.43 520.00,181.76 520.50,182.09 521.00,182.41 521.50,182.74 522.00,183.06 522.50,183.38 523.00,183.71 523.50,184.03 524.00,184.35 524.50,184.67 525.00,184.99 525.50,185.30 526.00,185.62 526.50,185.94 527.00,186.25 527.50,186.57 528.00,186.88 528.50,187.19 529.00,187.51 529.50,187.82 530.00,188.13 530.50,188.44 531.00,188.75 531.50,189.05 532.00,189.36 532.50,189.67 533.00,189.97 533.50,190.28 534.00,190.58 534.50,190.89 535.00,191.19 535.50,191.49 536.00,191.79 536.50,192.09 537.00,192.39 537.50,192.69 538.00,192.98 538.50,193.28 539.00,193.58 539.50,193.87 540.00,194.16 540.50,194.46 541.00,194.75 541.50,195.04 542.00,195.33 542.50,195.62 543.00,195.91 543.50,196.20 544.00,196.48 544.50,196.77 545.00,197.05 545.50,197.34 546.00,197.62 546.50,197.90 547.00,198.18 547.50,198.46 548.00,198.74 548.50,199.02 549.00,199.29 549.50,199.57 550.00,199.84 550.50,200.12 551.00,200.39 551.50,200.66 552.00,200.93 552.50,201.20 553.00,201.47 553.50,201.74 554.00,202.00 554.50,202.27 555.00,202.53 555.50,202.79 556.00,203.05 556.50,203.31 557.00,203.57 557.50,203.83 558.00,204.09 558.50,204.34 559.00,204.60 559.50,204.85 560.00,205.10 560.50,205.35 561.00,205.60 561.50,205.85 562.00,206.10 562.50,206.34 563.00,206.59 563.50,206.83 564.00,207.07 564.50,207.31 565.00,207.55 565.50,207.79 566.00,208.02 566.50,208.26 567.00,208.49 567.50,208.72 568.00,208.95 568.50,209.18 569.00,209.41 569.50,209.64 570.00,209.86 570.50,210.09 571.00,210.31 571.50,210.53 572.00,210.75 572.50,210.96 573.00,211.18 573.50,211.40 574.00,211.61 574.50,211.82 575.00,212.03 575.50,212.24 576.00,212.45 576.50,212.65 577.00,212.86 577.50,213.06 578.00,213.26 578.50,213.46 579.00,213.66 579.50,213.85 580.00,214.05 580.50,214.24 581.00,214.43 581.50,214.62 582.00,214.81 582.50,215.00 583.00,215.18 583.50,215.37 584.00,215.55 584.50,215.73 585.00,215.91 585.50,216.08 586.00,216.26 586.50,216.43 587.00,216.61 587.50,216.78 588.00,216.95 588.50,217.11 589.00,217.28 589.50,217.45 590.00,217.61 590.50,217.77 591.00,217.93 591.50,218.09 592.00,218.24 592.50,218.40 593.00,218.55 593.50,218.70 594.00,218.85 594.50,219.00 595.00,219.15 595.50,219.30 596.00,219.44 596.50,219.58 597.00,219.72 597.50,219.86 598.00,220.00 598.50,220.14 599.00,220.27 599.50,220.40 600.00,220.54 600.50,220.67 601.00,220.79 601.50,220.92 602.00,221.05 602.50,221.17 603.00,221.29 603.50,221.42 604.00,221.54 604.50,221.65 605.00,221.77 605.50,221.89 606.00,222.00 606.50,222.11 607.00,222.22 607.50,222.33 608.00,222.44 608.50,222.55 609.00,222.65 609.50,222.76 610.00,222.86 610.50,222.96 611.00,223.06 611.50,223.16 612.00,223.26 612.50,223.36 613.00,223.45 613.50,223.54 614.00,223.64 614.50,223.73 615.00,223.82 615.50,223.91 616.00,223.99 616.50,224.08 617.00,224.17 617.50,224.25 618.00,224.33 618.50,224.41 619.00,224.49 619.50,224.57 620.00,224.65 620.50,224.73 621.00,224.80 621.50,224.88 622.00,224.95 622.50,225.02 623.00,225.10 623.50,225.17 624.00,225.24 624.50,225.30 625.00,225.37 625.50,225.44 626.00,225.50 626.50,225.57 627.00,225.63 627.50,225.69 628.00,225.75 628.50,225.81 629.00,225.87 629.50,225.93 630.00,225.99 630.50,226.05 631.00,226.10 631.50,226.16 632.00,226.21 632.50,226.27 633.00,226.32 633.50,226.37 634.00,226.42 634.50,226.47 635.00,226.52 635.50,226.57 636.00,226.62 636.50,226.66 637.00,226.71 637.50,226.76 638.00,226.80 638.50,226.84 639.00,226.89 639.50,226.93 640.00,226.97 640.50,227.01 641.00,227.05 641.50,227.09 642.00,227.13 642.50,227.17 643.00,227.21 643.50,227.25 644.00,227.28 644.50,227.32 645.00,227.36 645.50,227.39 646.00,227.42 646.50,227.46 647.00,227.49 647.50,227.52 648.00,227.56 648.50,227.59 649.00,227.62 649.50,227.65 650.00,227.68 650.50,227.71 651.00,227.74 651.50,227.77 652.00,227.79 652.50,227.82 653.00,227.85 653.50,227.87 654.00,227.90 654.50,227.93 655.00,227.95 655.50,227.98 656.00,228.00 656.50,228.02 657.00,228.05 657.50,228.07 658.00,228.09 658.50,228.12 659.00,228.14 659.50,228.16 660.00,228.18 660.50,228.20" fill="none" stroke="#ff0000" stroke-width="3.2" stroke-linecap="round" stroke-linejoin="round"/>
<text x="439.80" y="238.20" font-size="14" text-anchor="end" fill="#000" stroke="#000" stroke-width="0.25" >1</text>
<text x="439.80" y="196.60" font-size="14" text-anchor="end" fill="#000" stroke="#000" stroke-width="0.25" >10</text>
<text x="439.80" y="155.00" font-size="14" text-anchor="end" fill="#000" stroke="#000" stroke-width="0.25" >100</text>
<text x="439.80" y="113.40" font-size="14" text-anchor="end" fill="#000" stroke="#000" stroke-width="0.25" >1000</text>
<text x="439.80" y="71.80" font-size="14" text-anchor="end" fill="#000" stroke="#000" stroke-width="0.25" >10000</text>
<text x="439.80" y="30.20" font-size="14" text-anchor="end" fill="#000" stroke="#000" stroke-width="0.25" >100000</text>
<text x="450.40" y="252.90" font-size="14" text-anchor="middle" fill="#000" stroke="#000" stroke-width="0.25" >0</text>
<text x="502.98" y="252.90" font-size="14" text-anchor="middle" fill="#000" stroke="#000" stroke-width="0.25" >25</text>
<text x="555.55" y="252.90" font-size="14" text-anchor="middle" fill="#000" stroke="#000" stroke-width="0.25" >50</text>
<text x="608.12" y="252.90" font-size="14" text-anchor="middle" fill="#000" stroke="#000" stroke-width="0.25" >75</text>
<text x="660.70" y="252.90" font-size="14" text-anchor="middle" fill="#000" stroke="#000" stroke-width="0.25" >100</text>
<text x="542.70" y="284.80" font-size="14" text-anchor="middle" fill="#000" stroke="#000" stroke-width="0.25" >Time /μs</text>
<text transform="translate(368.6,133.0) rotate(-90)" font-size="14" text-anchor="middle" stroke="#000" stroke-width="0.25">PL intensity (arb. units)</text>
<text x="476.00" y="37.60" font-size="13" text-anchor="start" fill="#000" stroke="#000" stroke-width="0.25" >prompt</text>
<text x="474.00" y="214.30" font-size="13" text-anchor="start" fill="#000" stroke="#000" stroke-width="0.25" >delayed</text>
<text x="550.40" y="48.60" font-size="13" text-anchor="start" fill="#000" stroke="#000" stroke-width="0.25" xml:space="preserve"><tspan font-style="italic" textLength="8.4" lengthAdjust="spacingAndGlyphs">Φ</tspan><tspan dy="2.6" font-size="9.4">F</tspan><tspan dy="-2.6"> = 0.755</tspan></text>
<text x="550.40" y="65.10" font-size="13" text-anchor="start" fill="#000" stroke="#000" stroke-width="0.25" xml:space="preserve"><tspan font-style="italic" textLength="8.4" lengthAdjust="spacingAndGlyphs">Φ</tspan><tspan dy="2.6" font-size="9.4">TADF</tspan><tspan dy="-2.6"> = 0.165</tspan></text>
<text x="550.40" y="81.50" font-size="13" text-anchor="start" fill="#000" stroke="#000" stroke-width="0.25" xml:space="preserve"><tspan font-style="italic">τ</tspan><tspan dy="2.6" font-size="9.4">F</tspan><tspan dy="-2.6"> = 4.60 ns</tspan></text>
<text x="550.40" y="97.90" font-size="13" text-anchor="start" fill="#000" stroke="#000" stroke-width="0.25" xml:space="preserve"><tspan font-style="italic">τ</tspan><tspan dy="2.6" font-size="9.4">TADF</tspan><tspan dy="-2.6"> = 10.0 </tspan><tspan font-style="italic">μ</tspan><tspan>s</tspan></text>
<text x="550.40" y="114.40" font-size="13" text-anchor="start" fill="#000" stroke="#000" stroke-width="0.25" xml:space="preserve"><tspan font-style="italic">k</tspan><tspan dy="2.6" font-size="9.4">F</tspan><tspan dy="-2.6"> = 1.64 x 10</tspan><tspan dy="-5.0" font-size="9">8</tspan><tspan dy="5.0"> s</tspan><tspan dy="-5.0" font-size="9">−1</tspan></text>
<text x="550.40" y="130.80" font-size="13" text-anchor="start" fill="#000" stroke="#000" stroke-width="0.25" xml:space="preserve"><tspan font-style="italic">k</tspan><tspan dy="2.6" font-size="9.4">IC</tspan><tspan dy="-2.6"> = 1.43 x 10</tspan><tspan dy="-5.0" font-size="9">7</tspan><tspan dy="5.0"> s</tspan><tspan dy="-5.0" font-size="9">−1</tspan></text>
<text x="550.40" y="147.40" font-size="13" text-anchor="start" fill="#000" stroke="#000" stroke-width="0.25" xml:space="preserve"><tspan font-style="italic">k</tspan><tspan dy="2.6" font-size="9.4">ISC</tspan><tspan dy="-2.6"> = 3.89 x 10</tspan><tspan dy="-5.0" font-size="9">7</tspan><tspan dy="5.0"> s</tspan><tspan dy="-5.0" font-size="9">−1</tspan></text>
<text x="550.40" y="164.00" font-size="13" text-anchor="start" fill="#ff2a14" stroke="#ff2a14" stroke-width="0.25" xml:space="preserve"><tspan font-style="italic">k</tspan><tspan dy="2.6" font-size="9.4">RISC</tspan><tspan dy="-2.6"> = 1.22 x 10</tspan><tspan dy="-5.0" font-size="9">5</tspan><tspan dy="5.0"> s</tspan><tspan dy="-5.0" font-size="9">−1</tspan></text>
<rect x="386.0" y="315.0" width="298.30" height="248.60" fill="none" stroke="#444" stroke-width="1.4"/>
<line x1="451.30" y1="325.70" x2="451.30" y2="536.40" stroke="#000" stroke-width="1.3" />
<line x1="450.70" y1="535.80" x2="664.10" y2="535.80" stroke="#000" stroke-width="1.3" />
<line x1="451.30" y1="535.80" x2="454.90" y2="535.80" stroke="#000" stroke-width="1.3" />
<line x1="451.30" y1="493.90" x2="454.90" y2="493.90" stroke="#000" stroke-width="1.3" />
<line x1="451.30" y1="452.00" x2="454.90" y2="452.00" stroke="#000" stroke-width="1.3" />
<line x1="451.30" y1="410.10" x2="454.90" y2="410.10" stroke="#000" stroke-width="1.3" />
<line x1="451.30" y1="368.20" x2="454.90" y2="368.20" stroke="#000" stroke-width="1.3" />
<line x1="451.30" y1="326.30" x2="454.90" y2="326.30" stroke="#000" stroke-width="1.3" />
<line x1="504.35" y1="535.80" x2="504.35" y2="532.20" stroke="#000" stroke-width="1.3" />
<line x1="557.40" y1="535.80" x2="557.40" y2="532.20" stroke="#000" stroke-width="1.3" />
<line x1="610.45" y1="535.80" x2="610.45" y2="532.20" stroke="#000" stroke-width="1.3" />
<line x1="663.50" y1="535.80" x2="663.50" y2="532.20" stroke="#000" stroke-width="1.3" />
<polygon points="451.5,535.8 451.8,506.0 452.8,506.0 453.2,514.8 455.2,514.8 455.3,534.0 455.8,534.0 455.9,514.8 459.8,514.8 460.2,522.0 463.6,522.0 464.0,514.8 467.2,514.8 468.7,535.8" fill="#1a1aff" stroke="#1a1aff" stroke-width="1.2" stroke-linejoin="round"/>
<polygon points="469.3,415.8 470.5,415.8 470.5,412.9 471.7,412.9 471.7,420.7 472.9,420.7 472.9,422.4 474.1,422.4 474.1,422.9 475.3,422.9 475.3,422.9 476.5,422.9 476.5,426.8 477.7,426.8 477.7,429.7 478.9,429.7 478.9,430.3 480.1,430.3 480.1,432.1 481.3,432.1 481.3,436.5 482.5,436.5 482.5,436.2 483.7,436.2 483.7,438.8 484.9,438.8 484.9,439.8 486.1,439.8 486.1,438.2 487.3,438.2 487.3,443.6 488.5,443.6 488.5,445.4 489.7,445.4 489.7,445.7 490.9,445.7 490.9,448.5 492.1,448.5 492.1,450.3 493.3,450.3 493.3,449.5 494.5,449.5 494.5,449.9 495.7,449.9 495.7,452.0 496.9,452.0 496.9,452.6 498.1,452.6 498.1,452.9 499.3,452.9 499.3,455.6 500.5,455.6 500.5,460.1 501.7,460.1 501.7,456.5 502.9,456.5 502.9,462.9 504.1,462.9 504.1,456.3 505.3,456.3 505.3,461.9 506.5,461.9 506.5,461.3 507.7,461.3 507.7,464.3 508.9,464.3 508.9,465.7 510.1,465.7 510.1,466.1 511.3,466.1 511.3,470.6 512.5,470.6 512.5,467.8 513.7,467.8 513.7,467.4 514.9,467.4 514.9,464.6 516.1,464.6 516.1,470.6 517.3,470.6 517.3,472.7 518.5,472.7 518.5,473.3 519.7,473.3 519.7,470.1 520.9,470.1 520.9,472.7 522.1,472.7 522.1,476.5 523.3,476.5 523.3,473.9 524.5,473.9 524.5,474.5 525.7,474.5 525.7,476.5 526.9,476.5 526.9,477.2 528.1,477.2 528.1,476.5 529.3,476.5 529.3,479.6 530.5,479.6 530.5,478.0 531.7,478.0 531.7,479.6 532.9,479.6 532.9,481.3 534.1,481.3 534.1,485.3 535.3,485.3 535.3,478.7 536.5,478.7 536.5,484.2 537.7,484.2 537.7,492.2 538.9,492.2 538.9,490.6 540.1,490.6 540.1,487.8 541.3,487.8 541.3,483.2 542.5,483.2 542.5,484.2 543.7,484.2 543.7,486.5 544.9,486.5 544.9,492.2 546.1,492.2 546.1,490.6 547.3,490.6 547.3,498.0 548.5,498.0 548.5,495.8 549.7,495.8 549.7,487.8 550.9,487.8 550.9,500.4 552.1,500.4 552.1,493.9 553.3,493.9 553.3,500.4 554.5,500.4 554.5,493.9 555.7,493.9 555.7,495.8 556.9,495.8 556.9,503.2 558.1,503.2 558.1,498.0 559.3,498.0 559.3,498.0 560.5,498.0 560.5,498.0 561.7,498.0 561.7,503.2 562.9,503.2 562.9,498.0 564.1,498.0 564.1,495.8 565.3,495.8 565.3,500.4 566.5,500.4 566.5,503.2 567.7,503.2 567.7,500.4 568.9,500.4 568.9,510.6 570.1,510.6 570.1,503.2 571.3,503.2 571.3,500.4 572.5,500.4 572.5,500.4 573.7,500.4 573.7,506.5 574.9,506.5 574.9,506.5 576.1,506.5 576.1,506.5 577.3,506.5 577.3,506.5 578.5,506.5 578.5,500.4 579.7,500.4 579.7,503.2 580.9,503.2 580.9,503.2 582.1,503.2 582.1,510.6 583.3,510.6 583.3,506.5 584.5,506.5 584.5,506.5 585.7,506.5 585.7,510.6 586.9,510.6 586.9,506.5 588.1,506.5 588.1,500.4 589.3,500.4 589.3,498.0 590.5,498.0 590.5,515.8 591.7,515.8 591.7,498.0 592.9,498.0 592.9,510.6 594.1,510.6 594.1,495.8 595.3,495.8 595.3,506.5 596.5,506.5 596.5,503.2 597.7,503.2 597.7,506.5 598.9,506.5 598.9,515.8 600.1,515.8 600.1,515.8 601.3,515.8 601.3,510.6 602.5,510.6 602.5,515.8 603.7,515.8 603.7,510.6 604.9,510.6 604.9,515.8 606.1,515.8 606.1,515.8 607.3,515.8 607.3,506.5 608.5,506.5 608.5,506.5 609.7,506.5 609.7,506.5 610.9,506.5 610.9,515.8 612.1,515.8 612.1,510.6 613.3,510.6 613.3,510.6 614.5,510.6 614.5,515.8 615.7,515.8 615.7,500.4 616.9,500.4 616.9,515.8 618.1,515.8 618.1,506.5 619.3,506.5 619.3,510.6 620.5,510.6 620.5,515.8 621.7,515.8 621.7,506.5 622.9,506.5 622.9,506.5 624.1,506.5 624.1,535.8 625.3,535.8 625.3,510.6 626.5,510.6 626.5,498.0 627.7,498.0 627.7,503.2 628.9,503.2 628.9,515.8 630.1,515.8 630.1,506.5 631.3,506.5 631.3,495.8 632.5,495.8 632.5,510.6 633.7,510.6 633.7,515.8 634.9,515.8 634.9,515.8 636.1,515.8 636.1,515.8 637.3,515.8 637.3,515.8 638.5,515.8 638.5,523.2 639.7,523.2 639.7,515.8 640.9,515.8 640.9,515.8 642.1,515.8 642.1,506.5 643.3,506.5 643.3,515.8 644.5,515.8 644.5,500.4 645.7,500.4 645.7,503.2 646.9,503.2 646.9,515.8 648.1,515.8 648.1,515.8 649.3,515.8 649.3,503.2 650.5,503.2 650.5,510.6 651.7,510.6 651.7,515.8 652.9,515.8 652.9,523.2 654.1,523.2 654.1,515.8 655.3,515.8 655.3,506.5 656.5,506.5 656.5,515.8 657.7,515.8 657.7,515.8 658.9,515.8 658.9,503.2 660.1,503.2 660.1,510.6 661.3,510.6 661.3,510.6 662.5,510.6 662.5,515.8 663.7,515.8 663.7,535.8 662.5,535.8 662.5,535.8 661.3,535.8 661.3,535.8 660.1,535.8 660.1,535.8 658.9,535.8 658.9,535.8 657.7,535.8 657.7,535.8 656.5,535.8 656.5,535.8 655.3,535.8 655.3,535.8 654.1,535.8 654.1,535.8 652.9,535.8 652.9,535.8 651.7,535.8 651.7,535.8 650.5,535.8 650.5,535.8 649.3,535.8 649.3,535.8 648.1,535.8 648.1,535.8 646.9,535.8 646.9,535.8 645.7,535.8 645.7,535.8 644.5,535.8 644.5,535.8 643.3,535.8 643.3,535.8 642.1,535.8 642.1,535.8 640.9,535.8 640.9,535.8 639.7,535.8 639.7,535.8 638.5,535.8 638.5,535.8 637.3,535.8 637.3,535.8 636.1,535.8 636.1,535.8 634.9,535.8 634.9,535.8 633.7,535.8 633.7,535.8 632.5,535.8 632.5,535.8 631.3,535.8 631.3,535.8 630.1,535.8 630.1,535.8 628.9,535.8 628.9,535.8 627.7,535.8 627.7,535.8 626.5,535.8 626.5,523.2 625.3,523.2 625.3,535.8 624.1,535.8 624.1,535.8 622.9,535.8 622.9,535.8 621.7,535.8 621.7,535.8 620.5,535.8 620.5,535.8 619.3,535.8 619.3,535.8 618.1,535.8 618.1,535.8 616.9,535.8 616.9,523.2 615.7,523.2 615.7,535.8 614.5,535.8 614.5,535.8 613.3,535.8 613.3,535.8 612.1,535.8 612.1,535.8 610.9,535.8 610.9,535.8 609.7,535.8 609.7,535.8 608.5,535.8 608.5,535.8 607.3,535.8 607.3,535.8 606.1,535.8 606.1,535.8 604.9,535.8 604.9,535.8 603.7,535.8 603.7,535.8 602.5,535.8 602.5,535.8 601.3,535.8 601.3,535.8 600.1,535.8 600.1,523.2 598.9,523.2 598.9,523.2 597.7,523.2 597.7,535.8 596.5,535.8 596.5,535.8 595.3,535.8 595.3,535.8 594.1,535.8 594.1,535.8 592.9,535.8 592.9,535.8 591.7,535.8 591.7,535.8 590.5,535.8 590.5,535.8 589.3,535.8 589.3,535.8 588.1,535.8 588.1,535.8 586.9,535.8 586.9,535.8 585.7,535.8 585.7,535.8 584.5,535.8 584.5,535.8 583.3,535.8 583.3,523.2 582.1,523.2 582.1,523.2 580.9,523.2 580.9,523.2 579.7,523.2 579.7,523.2 578.5,523.2 578.5,523.2 577.3,523.2 577.3,515.8 576.1,515.8 576.1,523.2 574.9,523.2 574.9,535.8 573.7,535.8 573.7,523.2 572.5,523.2 572.5,523.2 571.3,523.2 571.3,523.2 570.1,523.2 570.1,523.2 568.9,523.2 568.9,523.2 567.7,523.2 567.7,523.2 566.5,523.2 566.5,523.2 565.3,523.2 565.3,523.2 564.1,523.2 564.1,515.8 562.9,515.8 562.9,523.2 561.7,523.2 561.7,535.8 560.5,535.8 560.5,515.8 559.3,515.8 559.3,523.2 558.1,523.2 558.1,515.8 556.9,515.8 556.9,523.2 555.7,523.2 555.7,515.8 554.5,515.8 554.5,515.8 553.3,515.8 553.3,510.6 552.1,510.6 552.1,510.6 550.9,510.6 550.9,506.5 549.7,506.5 549.7,510.6 548.5,510.6 548.5,506.5 547.3,506.5 547.3,510.6 546.1,510.6 546.1,515.8 544.9,515.8 544.9,493.9 543.7,493.9 543.7,506.5 542.5,506.5 542.5,503.2 541.3,503.2 541.3,500.4 540.1,500.4 540.1,510.6 538.9,510.6 538.9,500.4 537.7,500.4 537.7,500.4 536.5,500.4 536.5,495.8 535.3,495.8 535.3,493.9 534.1,493.9 534.1,492.2 532.9,492.2 532.9,484.2 531.7,484.2 531.7,492.2 530.5,492.2 530.5,489.1 529.3,489.1 529.3,500.4 528.1,500.4 528.1,487.8 526.9,487.8 526.9,485.3 525.7,485.3 525.7,489.1 524.5,489.1 524.5,489.1 523.3,489.1 523.3,492.2 522.1,492.2 522.1,482.2 520.9,482.2 520.9,479.6 519.7,479.6 519.7,475.8 518.5,475.8 518.5,482.2 517.3,482.2 517.3,478.0 516.1,478.0 516.1,474.5 514.9,474.5 514.9,475.2 513.7,475.2 513.7,481.3 512.5,481.3 512.5,476.5 511.3,476.5 511.3,478.0 510.1,478.0 510.1,470.6 508.9,470.6 508.9,478.7 507.7,478.7 507.7,473.3 506.5,473.3 506.5,475.2 505.3,475.2 505.3,465.0 504.1,465.0 504.1,468.2 502.9,468.2 502.9,465.7 501.7,465.7 501.7,465.4 500.5,465.4 500.5,463.9 499.3,463.9 499.3,460.4 498.1,460.4 498.1,461.3 496.9,461.3 496.9,456.5 495.7,456.5 495.7,456.8 494.5,456.8 494.5,456.5 493.3,456.5 493.3,457.7 492.1,457.7 492.1,452.9 490.9,452.9 490.9,455.2 489.7,455.2 489.7,449.6 488.5,449.6 488.5,455.6 487.3,455.6 487.3,449.0 486.1,449.0 486.1,446.5 484.9,446.5 484.9,444.6 483.7,444.6 483.7,443.2 482.5,443.2 482.5,444.7 481.3,444.7 481.3,438.8 480.1,438.8 480.1,436.4 478.9,436.4 478.9,435.9 477.7,435.9 477.7,435.7 476.5,435.7 476.5,429.3 475.3,429.3 475.3,429.9 474.1,429.9 474.1,427.0 472.9,427.0 472.9,426.4 471.7,426.4 471.7,421.2 470.5,421.2 470.5,417.3 469.3,417.3" fill="#1a1aff" stroke="#1a1aff" stroke-width="1.6" stroke-linejoin="round"/>
<path d="M467.10,535.80 L467.10,326.30 L470.30,326.30 L470.30,405.00 Q470.20,407.80 472.20,412.80 L472.20,419.80 L470.30,421.80 L470.30,535.80 Z" fill="#1a1aff"/>
<polyline points="468.40,413.49 468.90,414.61 469.40,415.72 469.90,416.81 470.40,417.90 470.90,418.97 471.40,420.02 471.90,421.07 472.40,422.10 472.90,423.11 473.40,424.11 473.90,425.10 474.40,426.08 474.90,427.04 475.40,427.98 475.90,428.91 476.40,429.83 476.90,430.74 477.40,431.63 477.90,432.50 478.40,433.36 478.90,434.21 479.40,435.05 479.90,435.87 480.40,436.68 480.90,437.48 481.40,438.26 481.90,439.03 482.40,439.79 482.90,440.54 483.40,441.28 483.90,442.00 484.40,442.71 484.90,443.42 485.40,444.11 485.90,444.79 486.40,445.46 486.90,446.12 487.40,446.78 487.90,447.42 488.40,448.05 488.90,448.68 489.40,449.30 489.90,449.91 490.40,450.51 490.90,451.11 491.40,451.69 491.90,452.27 492.40,452.85 492.90,453.42 493.40,453.98 493.90,454.54 494.40,455.09 494.90,455.63 495.40,456.17 495.90,456.71 496.40,457.24 496.90,457.76 497.40,458.29 497.90,458.80 498.40,459.32 498.90,459.83 499.40,460.33 499.90,460.84 500.40,461.33 500.90,461.83 501.40,462.32 501.90,462.81 502.40,463.30 502.90,463.79 503.40,464.27 503.90,464.75 504.40,465.22 504.90,465.70 505.40,466.17 505.90,466.64 506.40,467.11 506.90,467.58 507.40,468.04 507.90,468.50 508.40,468.96 508.90,469.42 509.40,469.88 509.90,470.34 510.40,470.79 510.90,471.24 511.40,471.70 511.90,472.15 512.40,472.60 512.90,473.04 513.40,473.49 513.90,473.93 514.40,474.38 514.90,474.82 515.40,475.26 515.90,475.70 516.40,476.14 516.90,476.58 517.40,477.02 517.90,477.45 518.40,477.89 518.90,478.32 519.40,478.76 519.90,479.19 520.40,479.62 520.90,480.05 521.40,480.48 521.90,480.90 522.40,481.33 522.90,481.76 523.40,482.18 523.90,482.60 524.40,483.03 524.90,483.45 525.40,483.87 525.90,484.29 526.40,484.71 526.90,485.13 527.40,485.54 527.90,485.96 528.40,486.37 528.90,486.78 529.40,487.20 529.90,487.61 530.40,488.02 530.90,488.43 531.40,488.83 531.90,489.24 532.40,489.65 532.90,490.05 533.40,490.45 533.90,490.86 534.40,491.26 534.90,491.65 535.40,492.05 535.90,492.45 536.40,492.84 536.90,493.24 537.40,493.63 537.90,494.02 538.40,494.41 538.90,494.80 539.40,495.19 539.90,495.57 540.40,495.96 540.90,496.34 541.40,496.72 541.90,497.10 542.40,497.48 542.90,497.85 543.40,498.23 543.90,498.60 544.40,498.97 544.90,499.34 545.40,499.71 545.90,500.08 546.40,500.44 546.90,500.80 547.40,501.16 547.90,501.52 548.40,501.88 548.90,502.24 549.40,502.59 549.90,502.94 550.40,503.29 550.90,503.64 551.40,503.98 551.90,504.32 552.40,504.67 552.90,505.00 553.40,505.34 553.90,505.68 554.40,506.01 554.90,506.34 555.40,506.67 555.90,506.99 556.40,507.31 556.90,507.64 557.40,507.95 557.90,508.27 558.40,508.58 558.90,508.90 559.40,509.20 559.90,509.51 560.40,509.82 560.90,510.12 561.40,510.42 561.90,510.71 562.40,511.01 562.90,511.30 563.40,511.59 563.90,511.87 564.40,512.16 564.90,512.44 565.40,512.72 565.90,512.99 566.40,513.26 566.90,513.53 567.40,513.80 567.90,514.07 568.40,514.33 568.90,514.59 569.40,514.84 569.90,515.10 570.40,515.35 570.90,515.60 571.40,515.84 571.90,516.09 572.40,516.33 572.90,516.56 573.40,516.80 573.90,517.03 574.40,517.26 574.90,517.48 575.40,517.70 575.90,517.92 576.40,518.14 576.90,518.36 577.40,518.57 577.90,518.78 578.40,518.98 578.90,519.19 579.40,519.39 579.90,519.58 580.40,519.78 580.90,519.97 581.40,520.16 581.90,520.35 582.40,520.53 582.90,520.71 583.40,520.89 583.90,521.07 584.40,521.24 584.90,521.41 585.40,521.58 585.90,521.74 586.40,521.91 586.90,522.07 587.40,522.23 587.90,522.38 588.40,522.53 588.90,522.68 589.40,522.83 589.90,522.98 590.40,523.12 590.90,523.26 591.40,523.40 591.90,523.53 592.40,523.66 592.90,523.79 593.40,523.92 593.90,524.05 594.40,524.17 594.90,524.30 595.40,524.41 595.90,524.53 596.40,524.65 596.90,524.76 597.40,524.87 597.90,524.98 598.40,525.09 598.90,525.19 599.40,525.29 599.90,525.40 600.40,525.49 600.90,525.59 601.40,525.69 601.90,525.78 602.40,525.87 602.90,525.96 603.40,526.05 603.90,526.13 604.40,526.22 604.90,526.30 605.40,526.38 605.90,526.46 606.40,526.54 606.90,526.62 607.40,526.69 607.90,526.76 608.40,526.84 608.90,526.91 609.40,526.97 609.90,527.04 610.40,527.11 610.90,527.17 611.40,527.23 611.90,527.30 612.40,527.36 612.90,527.42 613.40,527.47 613.90,527.53 614.40,527.59 614.90,527.64 615.40,527.69 615.90,527.74 616.40,527.80 616.90,527.84 617.40,527.89 617.90,527.94 618.40,527.99 618.90,528.03 619.40,528.08 619.90,528.12 620.40,528.16 620.90,528.20 621.40,528.24 621.90,528.28 622.40,528.32 622.90,528.36 623.40,528.40 623.90,528.43 624.40,528.47 624.90,528.50 625.40,528.54 625.90,528.57 626.40,528.60 626.90,528.63 627.40,528.67 627.90,528.70 628.40,528.72 628.90,528.75 629.40,528.78 629.90,528.81 630.40,528.84 630.90,528.86 631.40,528.89 631.90,528.91 632.40,528.94 632.90,528.96 633.40,528.98 633.90,529.01 634.40,529.03 634.90,529.05 635.40,529.07 635.90,529.09 636.40,529.11 636.90,529.13 637.40,529.15 637.90,529.17 638.40,529.19 638.90,529.21 639.40,529.22 639.90,529.24 640.40,529.26 640.90,529.27 641.40,529.29 641.90,529.31 642.40,529.32 642.90,529.34 643.40,529.35 643.90,529.36 644.40,529.38 644.90,529.39 645.40,529.40 645.90,529.42 646.40,529.43 646.90,529.44 647.40,529.45 647.90,529.46 648.40,529.48 648.90,529.49 649.40,529.50 649.90,529.51 650.40,529.52 650.90,529.53 651.40,529.54 651.90,529.55 652.40,529.56 652.90,529.57 653.40,529.58 653.90,529.58 654.40,529.59 654.90,529.60 655.40,529.61 655.90,529.62 656.40,529.62 656.90,529.63 657.40,529.64 657.90,529.65 658.40,529.65 658.90,529.66 659.40,529.67 659.90,529.67 660.40,529.68 660.90,529.69 661.40,529.69 661.90,529.70 662.40,529.70 662.90,529.71 663.40,529.71" fill="none" stroke="#ff0000" stroke-width="3.2" stroke-linecap="round" stroke-linejoin="round"/>
<text x="441.30" y="540.00" font-size="14" text-anchor="end" fill="#000" stroke="#000" stroke-width="0.25" >1</text>
<text x="441.30" y="498.10" font-size="14" text-anchor="end" fill="#000" stroke="#000" stroke-width="0.25" >10</text>
<text x="441.30" y="456.20" font-size="14" text-anchor="end" fill="#000" stroke="#000" stroke-width="0.25" >100</text>
<text x="441.30" y="414.30" font-size="14" text-anchor="end" fill="#000" stroke="#000" stroke-width="0.25" >1000</text>
<text x="441.30" y="372.40" font-size="14" text-anchor="end" fill="#000" stroke="#000" stroke-width="0.25" >10000</text>
<text x="441.30" y="330.50" font-size="14" text-anchor="end" fill="#000" stroke="#000" stroke-width="0.25" >100000</text>
<text x="451.30" y="554.40" font-size="14" text-anchor="middle" fill="#000" stroke="#000" stroke-width="0.25" >0</text>
<text x="504.35" y="554.40" font-size="14" text-anchor="middle" fill="#000" stroke="#000" stroke-width="0.25" >25</text>
<text x="557.40" y="554.40" font-size="14" text-anchor="middle" fill="#000" stroke="#000" stroke-width="0.25" >50</text>
<text x="610.45" y="554.40" font-size="14" text-anchor="middle" fill="#000" stroke="#000" stroke-width="0.25" >75</text>
<text x="663.50" y="554.40" font-size="14" text-anchor="middle" fill="#000" stroke="#000" stroke-width="0.25" >100</text>
<text x="544.10" y="585.90" font-size="14" text-anchor="middle" fill="#000" stroke="#000" stroke-width="0.25" >Time /μs</text>
<text transform="translate(370.6,433.0) rotate(-90)" font-size="14" text-anchor="middle" stroke="#000" stroke-width="0.25">PL intensity (arb. units)</text>
<text x="477.00" y="338.70" font-size="13" text-anchor="start" fill="#000" stroke="#000" stroke-width="0.25" >prompt</text>
<text x="476.40" y="515.50" font-size="13" text-anchor="start" fill="#000" stroke="#000" stroke-width="0.25" >delayed</text>
<text x="539.10" y="344.70" font-size="13" text-anchor="start" fill="#000" stroke="#000" stroke-width="0.25" xml:space="preserve"><tspan font-style="italic" textLength="8.4" lengthAdjust="spacingAndGlyphs">Φ</tspan><tspan dy="2.6" font-size="9.4">F</tspan><tspan dy="-2.6"> = 0.659</tspan></text>
<text x="539.10" y="361.20" font-size="13" text-anchor="start" fill="#000" stroke="#000" stroke-width="0.25" xml:space="preserve"><tspan font-style="italic" textLength="8.4" lengthAdjust="spacingAndGlyphs">Φ</tspan><tspan dy="2.6" font-size="9.4">TADF</tspan><tspan dy="-2.6"> = 0.272</tspan></text>
<text x="539.10" y="377.90" font-size="13" text-anchor="start" fill="#000" stroke="#000" stroke-width="0.25" xml:space="preserve"><tspan font-style="italic">τ</tspan><tspan dy="2.6" font-size="9.4">F</tspan><tspan dy="-2.6"> = 2.60 ns</tspan></text>
<text x="539.10" y="394.60" font-size="13" text-anchor="start" fill="#000" stroke="#000" stroke-width="0.25" xml:space="preserve"><tspan font-style="italic">τ</tspan><tspan dy="2.6" font-size="9.4">TADF</tspan><tspan dy="-2.6"> = 6.90 </tspan><tspan font-style="italic">μ</tspan><tspan>s</tspan></text>
<text x="539.10" y="411.10" font-size="13" text-anchor="start" fill="#000" stroke="#000" stroke-width="0.25" xml:space="preserve"><tspan font-style="italic">k</tspan><tspan dy="2.6" font-size="9.4">F</tspan><tspan dy="-2.6"> = 2.57 x 10</tspan><tspan dy="-5.0" font-size="9">8</tspan><tspan dy="5.0"> s</tspan><tspan dy="-5.0" font-size="9">−1</tspan></text>
<text x="539.10" y="427.30" font-size="13" text-anchor="start" fill="#000" stroke="#000" stroke-width="0.25" xml:space="preserve"><tspan font-style="italic">k</tspan><tspan dy="2.6" font-size="9.4">IC</tspan><tspan dy="-2.6"> = 1.90 x 10</tspan><tspan dy="-5.0" font-size="9">7</tspan><tspan dy="5.0"> s</tspan><tspan dy="-5.0" font-size="9">−1</tspan></text>
<text x="539.10" y="443.80" font-size="13" text-anchor="start" fill="#000" stroke="#000" stroke-width="0.25" xml:space="preserve"><tspan font-style="italic">k</tspan><tspan dy="2.6" font-size="9.4">ISC</tspan><tspan dy="-2.6"> = 1.14 x 10</tspan><tspan dy="-5.0" font-size="9">8</tspan><tspan dy="5.0"> s</tspan><tspan dy="-5.0" font-size="9">−1</tspan></text>
<text x="539.10" y="460.30" font-size="13" text-anchor="start" fill="#ff2a14" stroke="#ff2a14" stroke-width="0.25" xml:space="preserve"><tspan font-style="italic">k</tspan><tspan dy="2.6" font-size="9.4">RISC</tspan><tspan dy="-2.6"> = 2.05 x 10</tspan><tspan dy="-5.0" font-size="9">5</tspan><tspan dy="5.0"> s</tspan><tspan dy="-5.0" font-size="9">−1</tspan></text>
</svg>
</body></html>
